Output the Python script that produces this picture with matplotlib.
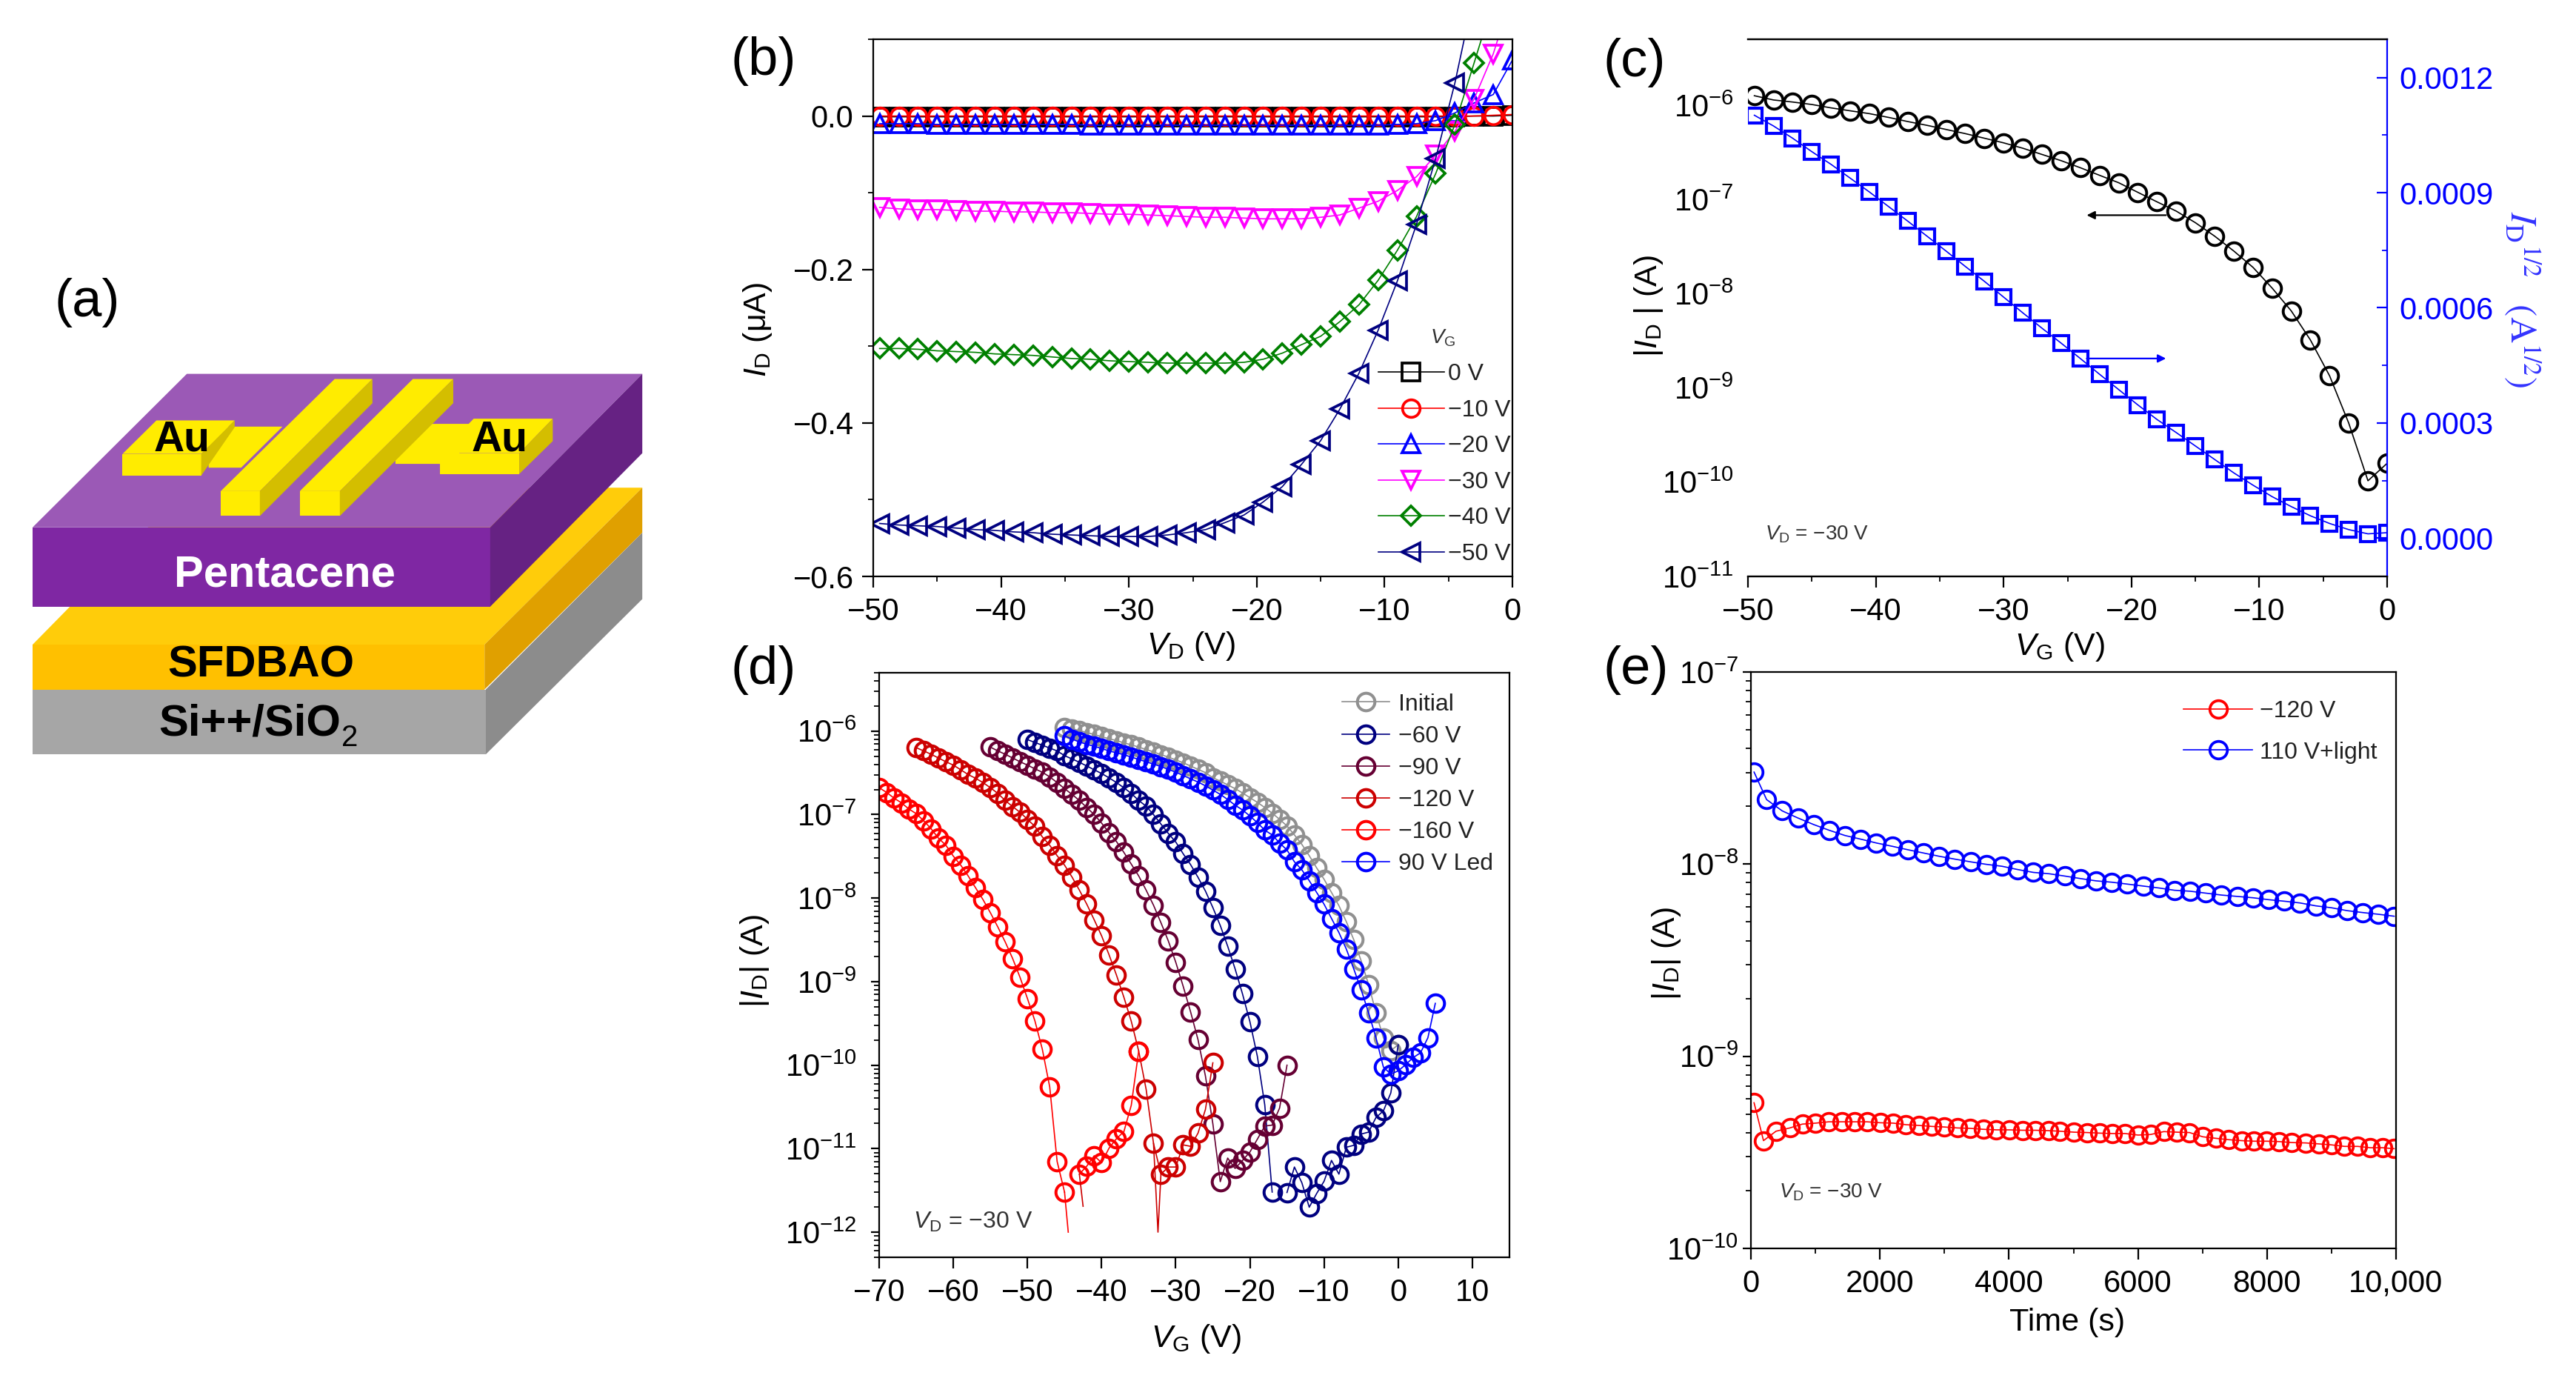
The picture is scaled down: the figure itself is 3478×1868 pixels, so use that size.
import numpy as np
import matplotlib
matplotlib.use('Agg')
import matplotlib.pyplot as plt
from matplotlib.patches import Polygon
from matplotlib.ticker import LogLocator, NullFormatter, MultipleLocator, FormatStrFormatter

plt.rcParams['font.family'] = ['Liberation Sans', 'DejaVu Sans']
plt.rcParams['mathtext.fontset'] = 'custom'
plt.rcParams['mathtext.rm'] = 'Liberation Sans'
plt.rcParams['mathtext.it'] = 'Liberation Sans:italic'
plt.rcParams['mathtext.bf'] = 'Liberation Sans:bold'

W, H = 3478, 1868

# panel b, output curves, I_D in uA
b_vd = [-49.5, -48, -46.5, -45, -43.5, -42, -40.5, -39, -37.5, -36, -34.5, -33, -31.5, -30, -28.5, -27, -25.5,
        -24, -22.5, -21, -19.5, -18, -16.5, -15, -13.5, -12, -10.5, -9, -7.5, -6, -4.5, -3, -1.5, 0]
b_0v = [-0.001, -0.001, -0.001, -0.001, -0.001, -0.001, -0.001, -0.001, -0.001, -0.001, -0.001, -0.001,
        -0.001, -0.001, -0.001, -0.001, -0.001, -0.001, -0.001, -0.001, -0.001, -0.001, -0.001, -0.001,
        -0.001, -0.001, -0.001, -0.001, -0.001, -0.001, -0.001, 0.0, 0.0, 0.001]
b_10v = [0.0, 0.0, 0.0, 0.0, 0.0, 0.0, 0.0, 0.0, 0.0, 0.0, 0.0, 0.0, 0.0, 0.0, 0.0, 0.0, 0.0,
         0.0, 0.0, 0.0, 0.0, 0.0, 0.0, 0.0, 0.0, 0.0, 0.0, 0.0, 0.0, 0.0, 0.0, 0.0, 0.001, 0.002]
b_20v = [-0.010, -0.010, -0.010, -0.011, -0.011, -0.011, -0.011, -0.011, -0.011, -0.011, -0.011, -0.012,
         -0.012, -0.012, -0.012, -0.012, -0.012, -0.012, -0.012, -0.012, -0.012, -0.012, -0.012, -0.012,
         -0.012, -0.012, -0.012, -0.011, -0.010, -0.006, 0.004, 0.017, 0.028, 0.073]
b_30v = [-0.119, -0.121, -0.122, -0.122, -0.123, -0.124, -0.124, -0.125, -0.125, -0.126, -0.126, -0.127,
         -0.128, -0.128, -0.129, -0.130, -0.131, -0.132, -0.132, -0.133, -0.134, -0.134, -0.134, -0.132,
         -0.129, -0.120, -0.111, -0.097, -0.079, -0.051, -0.020, 0.022, 0.081, 0.16]
b_40v = [-0.303, -0.303, -0.304, -0.306, -0.307, -0.308, -0.310, -0.311, -0.312, -0.314, -0.316, -0.317,
         -0.319, -0.320, -0.321, -0.322, -0.322, -0.322, -0.322, -0.321, -0.317, -0.309, -0.298, -0.287,
         -0.268, -0.246, -0.214, -0.175, -0.131, -0.075, -0.011, 0.069, 0.15, 0.25]
b_50v = [-0.531, -0.533, -0.534, -0.535, -0.537, -0.539, -0.540, -0.542, -0.543, -0.545, -0.546, -0.547,
         -0.548, -0.548, -0.548, -0.546, -0.543, -0.539, -0.530, -0.520, -0.503, -0.483, -0.454, -0.423,
         -0.382, -0.335, -0.279, -0.215, -0.141, -0.055, 0.043, 0.16, 0.30, 0.45]
b_labels = ['0 V', '\u221210 V', '\u221220 V', '\u221230 V', '\u221240 V', '\u221250 V']
b_colors = ['black', 'red', 'blue', 'magenta', 'green', 'navy']
b_markers = ['s', 'o', '^', 'v', 'D', '<']
b_yticks = [-0.6, -0.4, -0.2, 0.0]
b_yticklabels = ['\u22120.6', '\u22120.4', '\u22120.2', '0.0']

# panel c, transfer curve, log10(I_D) on the left and I_D^1/2 on the right
c_vg = b_vd
c_log_id = [-5.90, -5.945, -5.967, -5.993, -6.029, -6.06, -6.09, -6.13, -6.174, -6.214, -6.258, -6.302,
            -6.351, -6.40, -6.457, -6.523, -6.589, -6.664, -6.744, -6.823, -6.925, -7.026, -7.124, -7.247,
            -7.389, -7.547, -7.72, -7.94, -8.183, -8.492, -8.872, -9.375, -9.985, -9.80]
c_sqrt_id = [0.001102, 0.001074, 0.001042, 0.001007, 0.000974, 0.000938, 0.000902, 0.000864, 0.000826,
             0.000787, 0.000748, 0.000708, 0.000669, 0.000628, 0.000587, 0.000547, 0.000508, 0.000468,
             0.000427, 0.000387, 0.000347, 0.000309, 0.000275, 0.000240, 0.000205, 0.000170, 0.000138,
             0.000108, 0.000082, 0.000058, 0.000038, 0.000022, 0.000011, 0.000014]

# panel d, transfer curves after programming, log10(I_D)
d_x_init = [-45, -44, -43, -42, -41, -40, -39, -38, -37, -36, -35, -34, -33, -32, -31, -30, -29, -28, -27, -26,
            -25, -24, -23, -22, -21, -20, -19, -18, -17, -16, -15, -14, -13, -12, -11, -10, -9, -8, -7, -6,
            -5, -4, -3, -2, -1, 0]
d_init = [-5.955, -5.972, -5.994, -6.017, -6.04, -6.068, -6.09, -6.113, -6.141, -6.164, -6.192, -6.22, -6.249,
          -6.282, -6.311, -6.345, -6.379, -6.418, -6.458, -6.497, -6.559, -6.599, -6.644, -6.689, -6.74, -6.797,
          -6.853, -6.915, -6.983, -7.056, -7.136, -7.243, -7.356, -7.492, -7.638, -7.774, -7.932, -8.09, -8.282,
          -8.497, -8.751, -9.034, -9.373, -9.672, -9.825, -9.757]
d_x_60 = [-50, -49, -48, -47, -46, -45, -44, -43, -42, -41, -40, -39, -38, -37, -36, -35, -34, -33, -32, -31,
          -30, -29, -28, -27, -26, -25, -24, -23, -22, -21, -20, -19, -18, -17, -16, -15, -14, -13, -12, -11,
          -10, -9, -8, -7, -6, -5, -4, -3, -2, -1, 0]
d_60 = [-6.102, -6.136, -6.169, -6.203, -6.237, -6.294, -6.333, -6.373, -6.418, -6.463, -6.508, -6.559, -6.616,
        -6.678, -6.746, -6.831, -6.898, -7.0, -7.113, -7.226, -7.328, -7.469, -7.599, -7.751, -7.915, -8.113,
        -8.328, -8.576, -8.847, -9.147, -9.48, -9.893, -10.475, -11.52, np.nan, -11.525, -11.22, -11.407,
        -11.701, -11.537, -11.39, -11.141, -11.305, -10.983, -10.96, -10.825, -10.802, -10.627, -10.548,
        -10.333, -9.757]
d_x_90 = [-55, -54, -53, -52, -51, -50, -49, -48, -47, -46, -45, -44, -43, -42, -41, -40, -39, -38, -37, -36,
          -35, -34, -33, -32, -31, -30, -29, -28, -27, -26, -25, -24, -23, -22, -21, -20, -19, -18, -17, -16, -15]
d_90 = [-6.192, -6.237, -6.277, -6.322, -6.367, -6.407, -6.452, -6.492, -6.548, -6.616, -6.689, -6.757, -6.831,
        -6.915, -7.0, -7.102, -7.215, -7.322, -7.452, -7.593, -7.734, -7.904, -8.085, -8.294, -8.514, -8.768,
        -9.056, -9.362, -9.695, -10.13, -10.701, -11.395, -11.113, -11.237, -11.141, -11.04, -10.887, -10.729,
        -10.718, -10.514, -10.0]
d_x_120 = [-65, -64, -63, -62, -61, -60, -59, -58, -57, -56, -55, -54, -53, -52, -51, -50, -49, -48, -47, -46,
           -45, -44, -43, -42, -41, -40, -39, -38, -37, -36, -35, -34, -33, -32, -31, -30, -29, -28, -27, -26, -25]
d_120 = [-6.198, -6.237, -6.277, -6.322, -6.367, -6.407, -6.463, -6.52, -6.565, -6.616, -6.678, -6.746, -6.831,
         -6.904, -6.972, -7.056, -7.141, -7.266, -7.367, -7.492, -7.605, -7.746, -7.904, -8.073, -8.26, -8.452,
         -8.678, -8.921, -9.186, -9.475, -9.831, -10.288, -10.938, -11.305, -11.22, -11.22, -10.955, -10.972,
         -10.814, -10.531, -9.972]
d_x_160 = [-70, -69, -68, -67, -66, -65, -64, -63, -62, -61, -60, -59, -58, -57, -56, -55, -54, -53, -52, -51,
           -50, -49, -48, -47, -46, -45, -44, -43, -42, -41, -40, -39, -38, -37, -36, -35]
d_160 = [-6.678, -6.734, -6.802, -6.859, -6.932, -6.989, -7.073, -7.169, -7.282, -7.367, -7.497, -7.605, -7.734,
         -7.876, -8.017, -8.175, -8.345, -8.525, -8.723, -8.949, -9.203, -9.469, -9.808, -10.26, -11.153, -11.52,
         np.nan, -11.305, -11.209, -11.085, -11.169, -10.994, -10.881, -10.797, -10.48, -9.831]
d_x_led = [-45, -44, -43, -42, -41, -40, -39, -38, -37, -36, -35, -34, -33, -32, -31, -30, -29, -28, -27, -26,
           -25, -24, -23, -22, -21, -20, -19, -18, -17, -16, -15, -14, -13, -12, -11, -10, -9, -8, -7, -6,
           -5, -4, -3, -2, -1, 0, 1, 2, 3, 4, 5]
d_led = [-6.056, -6.096, -6.13, -6.158, -6.181, -6.209, -6.237, -6.26, -6.282, -6.311, -6.339, -6.367, -6.395,
         -6.424, -6.458, -6.492, -6.531, -6.571, -6.61, -6.655, -6.706, -6.757, -6.819, -6.887, -6.944, -7.017,
         -7.096, -7.186, -7.243, -7.339, -7.424, -7.565, -7.661, -7.791, -7.932, -8.073, -8.243, -8.412, -8.61,
         -8.847, -9.096, -9.373, -9.672, -10.023, -10.107, -10.068, -9.994, -9.91, -9.853, -9.672, -9.26]

# spikes below the last markers (line only, no symbol)
dip_160_x = [-45, -44.5]
dip_160_y = [-11.52, -12.0]
dip_160b_x = [-43, -42.5]
dip_160b_y = [-11.305, -11.69]
dip_120_x = [-33, -32.4, -32]
dip_120_y = [-10.938, -12.0, -11.305]

d_labels = ['Initial', '\u221260 V', '\u221290 V', '\u2212120 V', '\u2212160 V', '90 V Led']
d_colors = ['#909090', 'navy', '#660033', '#CC0000', 'red', 'blue']

# panel e, retention, log10(I_D)
e_t_light = [49, 243, 486, 730, 973, 1216, 1459, 1702, 1946, 2189, 2432, 2675, 2918, 3162, 3405, 3648, 3891, 4134,
             4378, 4621, 4864, 5107, 5350, 5594, 5837, 6080, 6323, 6566, 6810, 7053, 7296, 7539, 7782, 8026, 8269,
             8512, 8755, 8998, 9242, 9485, 9728, 9971]
e_light = [-7.521, -7.664, -7.723, -7.76, -7.794, -7.824, -7.851, -7.87, -7.89, -7.907, -7.925, -7.942, -7.959,
           -7.974, -7.988, -8.001, -8.011, -8.028, -8.043, -8.05, -8.062, -8.075, -8.087, -8.094, -8.104, -8.114,
           -8.124, -8.136, -8.141, -8.151, -8.161, -8.168, -8.175, -8.185, -8.193, -8.202, -8.217, -8.227, -8.242,
           -8.252, -8.261, -8.271]
e_t_120 = [49, 195, 389, 603, 798, 1002, 1206, 1411, 1605, 1800, 2004, 2208, 2403, 2607, 2802, 2996, 3200, 3395,
           3600, 3804, 4008, 4212, 4407, 4611, 4786, 5010, 5214, 5408, 5603, 5797, 6002, 6197, 6401, 6605, 6800,
           7004, 7208, 7403, 7607, 7801, 7996, 8190, 8385, 8599, 8803, 8998, 9202, 9406, 9601, 9796, 9971]
e_120 = [-9.242, -9.439, -9.39, -9.373, -9.353, -9.348, -9.341, -9.341, -9.341, -9.341, -9.346, -9.348, -9.356,
         -9.36, -9.365, -9.368, -9.373, -9.375, -9.38, -9.383, -9.383, -9.385, -9.385, -9.387, -9.39, -9.395,
         -9.397, -9.4, -9.402, -9.402, -9.41, -9.407, -9.392, -9.395, -9.397, -9.419, -9.427, -9.434, -9.439,
         -9.442, -9.442, -9.444, -9.449, -9.451, -9.456, -9.461, -9.469, -9.469, -9.476, -9.476, -9.481]

fig = plt.figure(figsize=(W / 100, H / 100), dpi=100)


def panel(l, t, r, b):
    return fig.add_axes([l / W, 1 - b / H, (r - l) / W, (b - t) / H])


def style_ticks(ax, labelx=30, padx=9, pady=8, ylen=11):
    ax.tick_params(axis='x', which='major', length=11, width=1.6, labelsize=labelx, pad=padx, direction='out')
    ax.tick_params(axis='x', which='minor', length=5, width=1.3, direction='out')
    ax.tick_params(axis='y', which='major', length=ylen, width=1.6, labelsize=labelx, pad=pady, direction='out')
    ax.tick_params(axis='y', which='minor', length=5, width=1.3, direction='out')
    for s in ax.spines.values():
        s.set_linewidth(1.6)


def log_ticks(ax):
    ax.set_yscale('log')
    ax.yaxis.set_major_locator(LogLocator(base=10, numticks=20))
    ax.yaxis.set_minor_locator(LogLocator(base=10, subs=[0.2, 0.3, 0.4, 0.5, 0.6, 0.7, 0.8, 0.9], numticks=20))
    ax.yaxis.set_minor_formatter(NullFormatter())


# panel b
ax_b = panel(1179, 53, 2042, 778)
b_series = [b_0v, b_10v, b_20v, b_30v, b_40v, b_50v]
for vals, col, mk, lab in zip(b_series, b_colors, b_markers, b_labels):
    ms = 13.5 if mk == 'D' else 17
    ax_b.plot(b_vd, vals, color=col, lw=1.2, marker=mk, ms=ms, mfc='none', mec=col, mew=2.7, label=lab)
ax_b.set_xlim(-50, 0)
ax_b.set_ylim(-0.6, 0.1)
ax_b.xaxis.set_major_locator(MultipleLocator(10))
ax_b.xaxis.set_minor_locator(MultipleLocator(5))
ax_b.set_yticks(b_yticks)
ax_b.set_yticklabels(b_yticklabels)
ax_b.yaxis.set_minor_locator(MultipleLocator(0.1))
style_ticks(ax_b)
leg = ax_b.legend(loc='upper left', bbox_to_anchor=(0.79, 0.397), frameon=False, fontsize=23, handlelength=2.8,
                  handletextpad=0.15, labelspacing=0.58, borderpad=0, borderaxespad=0)
for t in leg.get_texts():
    t.set_color('#222222')

# panel c
ax_c = panel(2360, 53, 3223, 778)
ax_c.plot(c_vg, 10.0 ** np.array(c_log_id), color='black', lw=1.2, marker='o', ms=17, mfc='none', mec='black', mew=2.8)
ax_c.set_xlim(-50, 0)
log_ticks(ax_c)
ax_c.set_ylim(1e-11, 5e-6)
ax_c.xaxis.set_major_locator(MultipleLocator(10))
ax_c.xaxis.set_minor_locator(MultipleLocator(5))
style_ticks(ax_c, pady=14)
ax_c.tick_params(axis='y', which='both', length=0)
ax_c.spines['left'].set_visible(False)
ax_c.spines['right'].set_visible(False)
ax_c.annotate('', xy=(-23.5, 6.8e-8), xytext=(-17.3, 6.8e-8),
              arrowprops=dict(arrowstyle='-|>', color='black', lw=1.6, mutation_scale=16, shrinkA=0, shrinkB=0))
ax_c2 = ax_c.twinx()
ax_c2.plot(c_vg, c_sqrt_id, color='blue', lw=1.2, marker='s', ms=15, mfc='none', mec='blue', mew=3.0)
ax_c2.set_ylim(-0.0001, 0.0013)
ax_c2.yaxis.set_major_locator(MultipleLocator(0.0003))
ax_c2.yaxis.set_minor_locator(MultipleLocator(0.00015))
ax_c2.yaxis.set_major_formatter(FormatStrFormatter('%.4f'))
ax_c2.tick_params(axis='y', which='major', length=10, width=1.6, direction='in', colors='blue', labelsize=30, pad=12)
ax_c2.tick_params(axis='y', which='minor', length=5, width=1.3, direction='in', colors='blue')
ax_c2.spines['right'].set_color('blue')
ax_c2.spines['right'].set_linewidth(1.6)
ax_c2.spines['left'].set_visible(False)
ax_c2.spines['top'].set_linewidth(1.6)
ax_c2.spines['bottom'].set_linewidth(1.6)
ax_c2.annotate('', xy=(-17.3, 0.000468), xytext=(-23.5, 0.000468),
               arrowprops=dict(arrowstyle='-|>', color='blue', lw=1.6, mutation_scale=16, shrinkA=0, shrinkB=0))

# panel d
ax_d = panel(1187, 908, 2038, 1697)
d_x = [d_x_init, d_x_60, d_x_90, d_x_120, d_x_160, d_x_led]
d_y = [d_init, d_60, d_90, d_120, d_160, d_led]
for xs, ys, col, lab in zip(d_x, d_y, d_colors, d_labels):
    ax_d.plot(xs, 10.0 ** np.array(ys), color=col, lw=1.2, marker='o', ms=17, mfc='none', mec=col, mew=2.9, label=lab)
ax_d.plot(dip_160_x, 10.0 ** np.array(dip_160_y), color='red', lw=1.2)
ax_d.plot(dip_160b_x, 10.0 ** np.array(dip_160b_y), color='#CC0000', lw=1.2)
ax_d.plot(dip_120_x, 10.0 ** np.array(dip_120_y), color='#CC0000', lw=1.2)
ax_d.set_xlim(-70, 15)
log_ticks(ax_d)
ax_d.set_ylim(5e-13, 5e-6)
ax_d.xaxis.set_major_locator(MultipleLocator(10))
style_ticks(ax_d, pady=14, ylen=8)
leg = ax_d.legend(loc='upper left', bbox_to_anchor=(0.735, 0.965), frameon=False, fontsize=23, handlelength=2.0,
                  handletextpad=0.35, labelspacing=0.41, borderpad=0, borderaxespad=0)
for t in leg.get_texts():
    t.set_color('#222222')

# panel e
ax_e = panel(2364, 907, 3235, 1685)
ax_e.plot(e_t_120, 10.0 ** np.array(e_120), color='red', lw=1.2, marker='o', ms=17, mfc='none', mec='red', mew=2.7,
          label='\u2212120 V')
ax_e.plot(e_t_light, 10.0 ** np.array(e_light), color='blue', lw=1.2, marker='o', ms=17, mfc='none', mec='blue',
          mew=2.7, label='110 V+light')
ax_e.set_xlim(0, 10000)
log_ticks(ax_e)
ax_e.set_ylim(1e-10, 1e-7)
ax_e.xaxis.set_minor_locator(MultipleLocator(1000))
ax_e.set_xticks([0, 2000, 4000, 6000, 8000, 10000])
ax_e.set_xticklabels(['0', '2000', '4000', '6000', '8000', '10,000'])
style_ticks(ax_e, pady=4, ylen=8)
leg = ax_e.legend(loc='upper left', bbox_to_anchor=(0.67, 0.951), frameon=False, fontsize=23, handlelength=2.94,
                  handletextpad=0.3, labelspacing=0.8, borderpad=0, borderaxespad=0)
for t in leg.get_texts():
    t.set_color('#222222')

# overlay in pixel coordinates for labels and the device sketch
over = fig.add_axes([0, 0, 1, 1], zorder=10)
over.set_xlim(0, W)
over.set_ylim(H, 0)
over.set_xticks([])
over.set_yticks([])
over.axis('off')
over.patch.set_alpha(0)

for s, x, y in [('(a)', 118, 409), ('(b)', 1031, 83), ('(c)', 2207, 85), ('(d)', 1031, 905), ('(e)', 2209, 905)]:
    over.text(x, y, s, fontsize=52, ha='center', va='center')

vd_lab = r'$\mathit{V}_{\mathrm{D}}$ (V)'
vg_lab = r'$\mathit{V}_{\mathrm{G}}$ (V)'
over.text(1608, 872, vd_lab, fontsize=31, ha='center', va='center')
over.text(2781, 873, vg_lab, fontsize=31, ha='center', va='center')
over.text(1615, 1807, vg_lab, fontsize=31, ha='center', va='center')
over.text(2791, 1785, 'Time (s)', fontsize=31, ha='center', va='center')
over.text(1023, 445, r'$\mathit{I}_{\mathrm{D}}$ ($\mathrm{\mu}$A)', fontsize=31, rotation=90, ha='center', va='center')
over.text(2226, 413, r'|$\mathit{I}_{\mathrm{D}}$ | (A)', fontsize=31, rotation=90, ha='center', va='center')
over.text(1019, 1297, r'|$\mathit{I}_{\mathrm{D}}$| (A)', fontsize=31, rotation=90, ha='center', va='center')
over.text(2250, 1287, r'|$\mathit{I}_{\mathrm{D}}$| (A)', fontsize=31, rotation=90, ha='center', va='center')
over.text(3405, 404, r'$I_{\mathrm{D}}{}^{1/2}\ \ \ (\mathrm{A}^{1/2})$', fontsize=35, rotation=270, ha='center',
          va='center', color='#3333FF', math_fontfamily='stix')

vd_note = r'$\mathit{V}_{\mathrm{D}}$ = ' + '\u221230 V'
over.text(2383, 721, vd_note, fontsize=20, va='center', color='#333333')
over.text(1233, 1649, vd_note, fontsize=23, va='center', color='#333333')
over.text(2402, 1609, vd_note, fontsize=20, va='center', color='#333333')
over.text(1948, 456, r'$\mathit{V}_{\mathrm{G}}$', fontsize=20, ha='center', va='center', color='#333333')


# device sketch, points are given in the 1568 px frame of the crop
def poly(pts, col):
    xy = [(x * 920 / 1568, 330 + y * 730 / 1568) for x, y in pts]
    over.add_patch(Polygon(xy, closed=True, fc=col, ec='none'))


def label(x, y, s, col='black', size=43, weight='bold', ha='center'):
    over.text(x * 920 / 1568, 330 + y * 730 / 1568, s, color=col, fontsize=size, fontweight=weight, ha=ha, va='center')


poly([(75, 1290), (1118, 1290), (1118, 1478), (75, 1478)], '#A6A6A6')
poly([(1118, 1290), (1478, 835), (1478, 1028), (1118, 1478)], '#8C8C8C')
poly([(75, 1160), (430, 705), (1478, 705), (1115, 1160)], '#FFCC0A')
poly([(75, 1160), (1115, 1160), (1115, 1290), (75, 1290)], '#FFC000')
poly([(1115, 1160), (1478, 705), (1478, 835), (1115, 1290)], '#E0A000')
poly([(75, 820), (430, 375), (1478, 375), (1128, 820)], '#9B59B6')
poly([(75, 820), (1128, 820), (1128, 1050), (75, 1050)], '#7F27A3')
poly([(1128, 820), (1478, 375), (1478, 605), (1128, 1050)], '#662283')

gold, gold_dark = '#FFEC00', '#D4BE00'
poly([(500, 528), (650, 528), (555, 647), (480, 647), (480, 582)], gold)
poly([(910, 570), (945, 520), (1090, 520), (1045, 636), (910, 636)], gold)
poly([(282, 607), (360, 510), (540, 510), (463, 607)], gold)
poly([(282, 607), (463, 607), (463, 670), (282, 670)], gold)
poly([(463, 607), (540, 510), (540, 530), (463, 670)], gold_dark)
poly([(1013, 605), (1090, 505), (1272, 505), (1195, 605)], gold)
poly([(1013, 605), (1195, 605), (1195, 665), (1013, 665)], gold)
poly([(1195, 605), (1272, 505), (1272, 570), (1195, 665)], gold_dark)
for x0, x1, x2, x3 in [(508, 598, 770, 857), (690, 782, 950, 1043)]:
    poly([(x0, 715), (x2, 390), (x3, 390), (x1, 715)], gold)
    poly([(x0, 715), (x1, 715), (x1, 787), (x0, 787)], gold)
    poly([(x1, 715), (x3, 390), (x3, 460), (x1, 787)], gold_dark)

label(418, 565, 'Au', size=41)
label(1150, 565, 'Au', size=41)
label(656, 958, 'Pentacene', col='white')
label(600, 1220, 'SFDBAO')
label(785, 1390, 'Si++/SiO', ha='right')
label(785, 1430, '2', size=29, weight='normal', ha='left')

fig.savefig('out.png', dpi=100)
